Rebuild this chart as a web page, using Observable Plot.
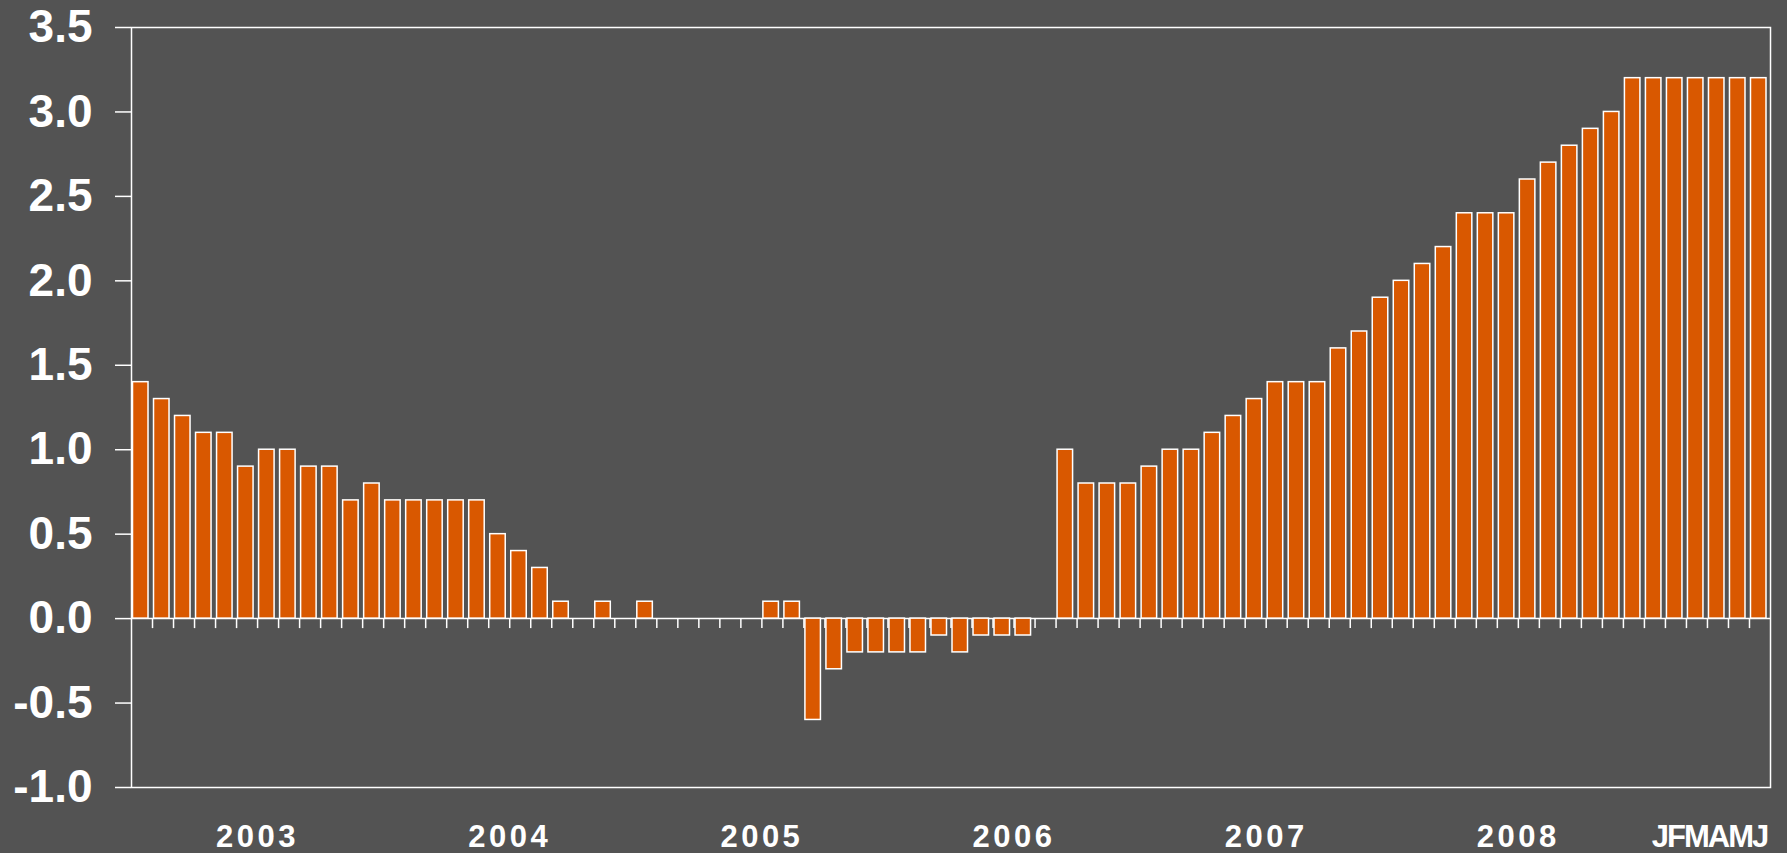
<!DOCTYPE html>
<html>
<head>
<meta charset="utf-8">
<script src="https://cdn.jsdelivr.net/npm/d3@7"></script>
<script src="https://cdn.jsdelivr.net/npm/@observablehq/plot@0.6"></script>
<style>
  html, body { margin: 0; padding: 0; background: #535353; }
</style>
</head>
<body>
<div id="chart"></div>
<script>
// Year labels (each spans 12 monthly bars) and the 2009 month letters
const years = ["2003", "2004", "2005", "2006", "2007", "2008"];
const months2009 = ["J", "F", "M", "A", "M", "J"];

// Monthly values, Jan 2003 .. Jun 2009
const values2003 = [1.4, 1.3, 1.2, 1.1, 1.1, 0.9, 1.0, 1.0, 0.9, 0.9, 0.7, 0.8];
const values2004 = [0.7, 0.7, 0.7, 0.7, 0.7, 0.5, 0.4, 0.3, 0.1, 0.0, 0.1, 0.0];
const values2005 = [0.1, 0.0, 0.0, 0.0, 0.0, 0.0, 0.1, 0.1, -0.6, -0.3, -0.2, -0.2];
const values2006 = [-0.2, -0.2, -0.1, -0.2, -0.1, -0.1, -0.1, 0.0, 1.0, 0.8, 0.8, 0.8];
const values2007 = [0.9, 1.0, 1.0, 1.1, 1.2, 1.3, 1.4, 1.4, 1.4, 1.6, 1.7, 1.9];
const values2008 = [2.0, 2.1, 2.2, 2.4, 2.4, 2.4, 2.6, 2.7, 2.8, 2.9, 3.0, 3.2];
const values2009 = [3.2, 3.2, 3.2, 3.2, 3.2, 3.2];

// Y tick values
const yTicks = [-1.0, -0.5, 0.0, 0.5, 1.0, 1.5, 2.0, 2.5, 3.0, 3.5];

const allValues = [...values2003, ...values2004, ...values2005, ...values2006,
                   ...values2007, ...values2008, ...values2009];
const data = allValues.map((v, i) => ({i, v}));
const nMonths = data.length;
const boundaries = d3.range(1, nMonths);
const yearCenters = years.map((y, k) => ({label: y, x: k * 12 + 6}));
const monthsText = months2009.join("");
const monthsLabel = [{label: monthsText, x: years.length * 12 + months2009.length / 2 + 0.1}];

const chart = Plot.plot({
  width: 1787,
  height: 853,
  marginLeft: 131,
  marginRight: 17,
  marginTop: 27,
  marginBottom: 66,
  style: {
    background: "#535353",
    color: "white",
    fontFamily: "'Liberation Sans', Arial, sans-serif",
    fontWeight: "bold"
  },
  x: {type: "linear", domain: [0, nMonths], axis: null},
  y: {domain: [-1, 3.5], axis: null},
  marks: [
    // small tick marks hanging below the zero line at month boundaries
    Plot.ruleX(boundaries, {x: d => d, y1: 0, y2: 0, insetBottom: -10, stroke: "white", strokeWidth: 1.5}),
    Plot.ruleY([0], {stroke: "white", strokeWidth: 1.5}),
    Plot.rectY(data.filter(d => d.v !== 0), {
      x1: d => d.i,
      x2: d => d.i + 1,
      y1: 0,
      y2: d => d.v,
      insetLeft: 1.5,
      insetRight: 4,
      fill: "#d95800",
      stroke: "white",
      strokeWidth: 1.5
    }),
    Plot.frame({stroke: "white", strokeWidth: 1.5}),
    Plot.axisY({
      ticks: yTicks,
      tickSize: 16,
      tickPadding: 23,
      tickFormat: d => d.toFixed(1),
      fontSize: 46,
      fontWeight: "bold",
      stroke: "white",
      strokeWidth: 1.5,
      fill: "white"
    }),
    Plot.text(yearCenters, {
      x: "x",
      text: "label",
      frameAnchor: "bottom",
      lineAnchor: "top",
      dy: 37,
      fontSize: 31,
      fontWeight: "bold",
      fill: "white"
    }),
    Plot.text(monthsLabel, {
      x: "x",
      text: "label",
      frameAnchor: "bottom",
      lineAnchor: "top",
      dy: 37,
      fontSize: 31,
      fontWeight: "bold",
      fill: "white"
    })
  ]
});

// letter spacing of the bottom labels
chart.querySelectorAll("text").forEach(t => {
  if (years.includes(t.textContent)) t.setAttribute("letter-spacing", "3.5");
  else if (t.textContent === monthsText) t.setAttribute("letter-spacing", "-2");
});
document.getElementById("chart").append(chart);
</script>
</body>
</html>
